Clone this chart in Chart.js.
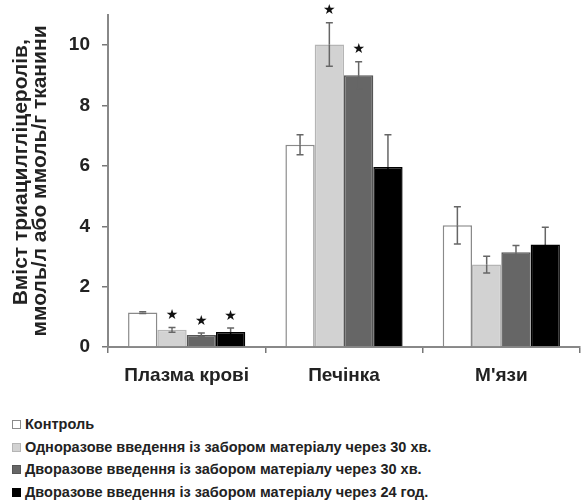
<!DOCTYPE html>
<html><head><meta charset="utf-8">
<script src="https://cdn.jsdelivr.net/npm/chart.js@4"></script>
<style>
html,body{margin:0;padding:0;background:#fff;}
#wrap{position:relative;width:582px;height:504px;}
#c{position:absolute;left:0;top:0;}
#legend{position:absolute;left:12px;top:413px;font-family:"Liberation Sans",Arial,sans-serif;font-weight:bold;font-size:14.5px;color:#222;}
.row{height:22.7px;line-height:22.7px;white-space:nowrap;display:flex;align-items:center;}
.sw{display:inline-block;width:7px;height:7px;border:1px solid #888;margin-right:4px;}
</style></head>
<body><div id="wrap"><canvas id="c" width="582" height="400"></canvas><div id="legend"></div></div>
<script>
const categories = ["Плазма крові", "Печінка", "М'язи"];
const seriesNames = [
  "Контроль",
  "Одноразове введення із забором матеріалу через 30 хв.",
  "Дворазове введення із забором матеріалу через 30 хв.",
  "Дворазове введення із забором матеріалу через 24 год."
];
const control   = [1.14, 6.70, 4.03];
const single30  = [0.57, 10.02, 2.73];
const double30  = [0.40, 9.00, 3.14];
const double24  = [0.50, 5.96, 3.40];
const controlErr  = [0.03, 0.33, 0.62];
const single30Err = [0.08, 0.72, 0.28];
const double30Err = [0.06, 0.45, 0.22];
const double24Err = [0.13, 1.07, 0.57];
const controlStar  = [false, false, false];
const single30Star = [true, true, false];
const double30Star = [true, true, false];
const double24Star = [true, false, false];
const yTicks = [0, 2, 4, 6, 8, 10];
const yTitleLines = ['   Вміст триацилгліцеролів,', 'ммоль/л або ммоль/г тканини'];

const fills   = ['#ffffff', '#d2d2d2', '#666666', '#000000'];
const borders = ['#8a8a8a', '#b5b5b5', '#555555', '#000000'];
const values = [control, single30, double30, double24];
const errs = [controlErr, single30Err, double30Err, double24Err];
const stars = [controlStar, single30Star, double30Star, double24Star];

const errorBars = {
  id: 'errorBars',
  afterDatasetsDraw(chart) {
    const ctx = chart.ctx, y = chart.scales.y;
    chart.data.datasets.forEach((ds, di) => {
      const meta = chart.getDatasetMeta(di);
      meta.data.forEach((bar, i) => {
        const v = ds.data[i], e = ds.err[i];
        const yt = y.getPixelForValue(v + e), yb = y.getPixelForValue(v - e), ym = y.getPixelForValue(v);
        const x = bar.x;
        ctx.save();
        ctx.lineWidth = 1.5;
        ctx.strokeStyle = '#666';
        ctx.beginPath();
        ctx.moveTo(x, yt); ctx.lineTo(x, ym);
        ctx.moveTo(x - 3.5, yt); ctx.lineTo(x + 3.5, yt);
        ctx.stroke();
        ctx.strokeStyle = di === 3 ? '#000' : '#666';
        ctx.beginPath();
        ctx.moveTo(x, ym); ctx.lineTo(x, yb);
        ctx.moveTo(x - 3.5, yb); ctx.lineTo(x + 3.5, yb);
        ctx.stroke();
        if (ds.star[i]) {
          ctx.fillStyle = '#111';
          ctx.font = '14px "DejaVu Sans"';
          ctx.textAlign = 'center';
          ctx.textBaseline = 'middle';
          ctx.fillText('★', x, yt - 12);
        }
        ctx.restore();
      });
    });
  }
};

new Chart(document.getElementById('c'), {
  type: 'bar',
  data: {
    labels: categories,
    datasets: values.map((v, i) => ({
      label: seriesNames[i],
      data: v,
      err: errs[i],
      star: stars[i],
      backgroundColor: fills[i],
      borderColor: borders[i],
      borderWidth: 1.5,
      categoryPercentage: 0.745,
      barPercentage: 1.0
    }))
  },
  options: {
    responsive: false,
    animation: false,
    layout: { padding: { top: 15, right: 2, left: 0, bottom: 0 } },
    plugins: { legend: { display: false }, tooltip: { enabled: false } },
    scales: {
      x: {
        grid: { display: true, offset: true, drawOnChartArea: false, drawTicks: true, tickLength: 6, color: '#777', lineWidth: 1.5 },
        border: { display: true, color: '#888', width: 2 },
        ticks: { color: '#222', padding: 11, font: { family: '"Liberation Sans", Arial', size: 19, weight: 'bold' } },
        afterFit(s) { s.height = 53; s.paddingLeft = 0; s.paddingRight = 0; }
      },
      y: {
        min: 0, max: 11,
        afterBuildTicks(s) { s.ticks = yTicks.map(v => ({ value: v })); },
        grid: { display: true, drawOnChartArea: false, drawTicks: true, tickLength: 6, color: '#777', lineWidth: 1.5 },
        border: { display: true, color: '#888', width: 2 },
        ticks: { color: '#222', padding: 12, font: { family: '"Liberation Sans", Arial', size: 19, weight: 'bold' } },
        title: {
          display: true,
          text: yTitleLines,
          color: '#222',
          font: { family: '"Liberation Sans", Arial', size: 21, weight: 'bold', lineHeight: 0.93 },
          padding: { top: 11, bottom: 0 }
        },
        afterFit(s) { s.width = 108; s.paddingTop = 0; s.paddingBottom = 0; }
      }
    }
  },
  plugins: [errorBars]
});

const lg = document.getElementById('legend');
seriesNames.forEach((n, i) => {
  const r = document.createElement('div'); r.className = 'row';
  const sw = document.createElement('span'); sw.className = 'sw';
  sw.style.background = fills[i]; sw.style.borderColor = borders[i];
  r.appendChild(sw);
  r.appendChild(document.createTextNode(n));
  lg.appendChild(r);
});
</script></body></html>
